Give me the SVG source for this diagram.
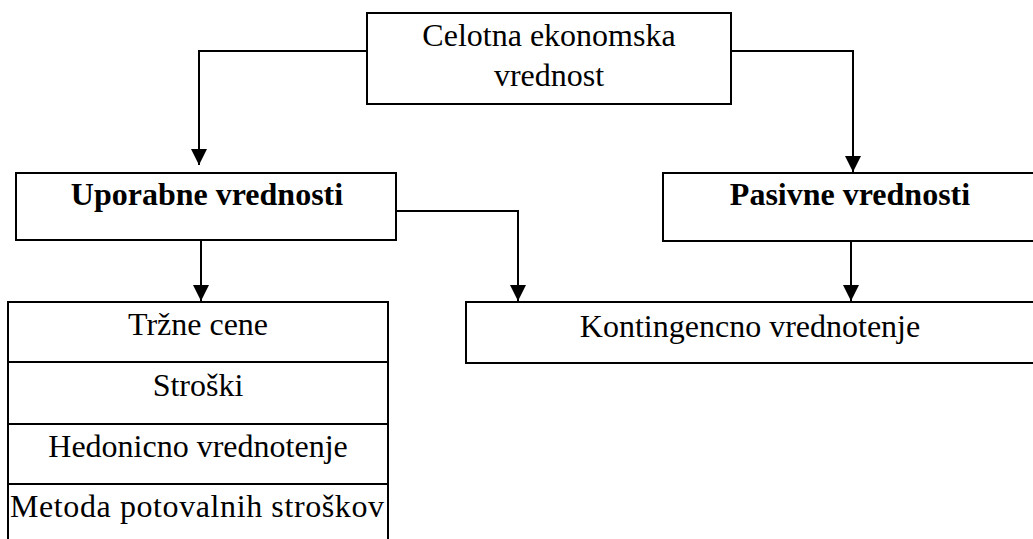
<svg xmlns="http://www.w3.org/2000/svg" width="1033" height="539" viewBox="0 0 1033 539">
  <defs>
    <style>
      .box { fill: #ffffff; stroke: #000000; stroke-width: 2; }
      .sep { stroke: #000000; stroke-width: 2; }
      .lbl { font-family: "Liberation Serif", "Times New Roman", serif; font-size: 32px; fill: #000000; text-anchor: middle; }
      .bold { font-weight: bold; }
      .wire { fill: none; stroke: #000000; stroke-width: 2; }
    </style>
    <marker id="arrow" viewBox="0 0 16 16" refX="16" refY="8" markerWidth="16" markerHeight="16" markerUnits="userSpaceOnUse" orient="auto">
      <path d="M0,0 L16,8 L0,16 Z" fill="#000000"/>
    </marker>
  </defs>
  <rect width="1033" height="539" fill="#ffffff"/>

  <g id="connectors">
    <path class="wire" d="M367,51 H199 V165" marker-end="url(#arrow)"/>
    <path class="wire" d="M731,51 H853 V172" marker-end="url(#arrow)"/>
    <path class="wire" d="M396,211 H518 V301" marker-end="url(#arrow)"/>
    <path class="wire" d="M201,240 V301" marker-end="url(#arrow)"/>
    <path class="wire" d="M851,241 V301" marker-end="url(#arrow)"/>
  </g>

  <g id="celotna">
    <rect class="box" x="367" y="13" width="364" height="91"/>
    <text class="lbl" x="549" y="46">Celotna ekonomska</text>
    <text class="lbl" x="549" y="86">vrednost</text>
  </g>

  <g id="uporabne">
    <rect class="box" x="16" y="173" width="380" height="67"/>
    <text class="lbl bold" x="207" y="205">Uporabne vrednosti</text>
  </g>

  <g id="pasivne">
    <rect class="box" x="663" y="173" width="380" height="68"/>
    <text class="lbl bold" x="850" y="205">Pasivne vrednosti</text>
  </g>

  <g id="kontingencno">
    <rect class="box" x="466" y="302" width="580" height="61"/>
    <text class="lbl" x="750" y="337">Kontingencno vrednotenje</text>
  </g>

  <g id="metode">
    <rect class="box" x="8" y="302" width="380" height="250"/>
    <line class="sep" x1="8" y1="362" x2="388" y2="362"/>
    <line class="sep" x1="8" y1="424" x2="388" y2="424"/>
    <line class="sep" x1="8" y1="484" x2="388" y2="484"/>
    <text class="lbl" x="198" y="335">Tržne cene</text>
    <text class="lbl" x="198" y="396">Stroški</text>
    <text class="lbl" x="198" y="457">Hedonicno vrednotenje</text>
    <text class="lbl" x="197" y="517" textLength="374" lengthAdjust="spacing">Metoda potovalnih stroškov</text>
  </g>
</svg>
